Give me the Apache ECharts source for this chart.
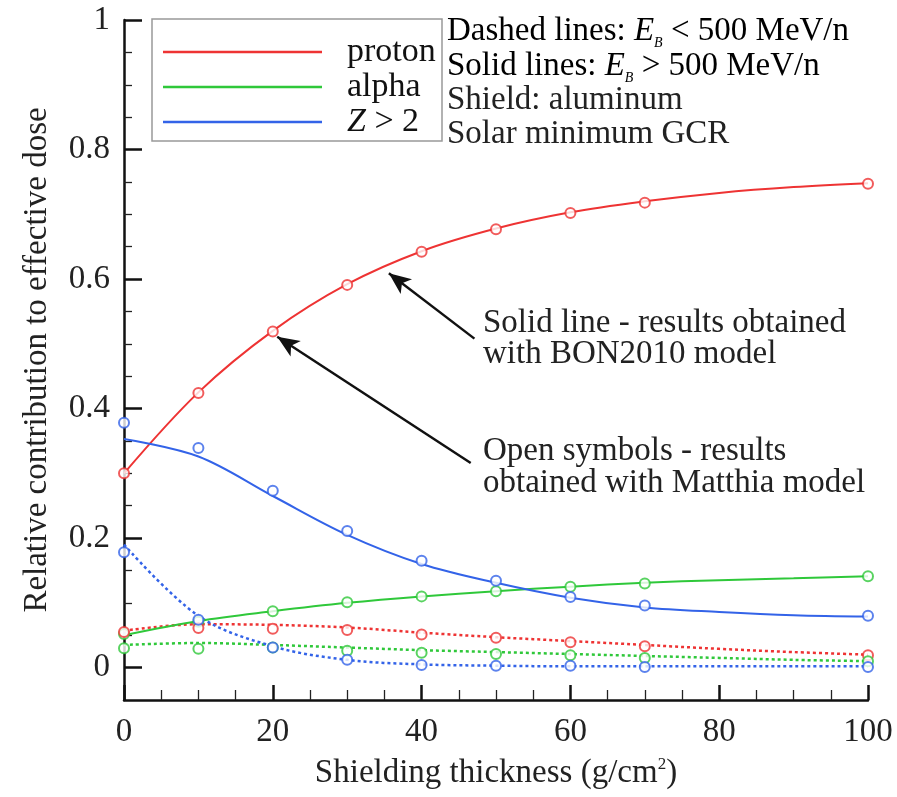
<!DOCTYPE html>
<html>
<head>
<meta charset="utf-8">
<script src="https://cdn.jsdelivr.net/npm/echarts@6/dist/echarts.min.js"></script>
<style>
  html, body { margin: 0; padding: 0; background: #fff; }
  #chart { width: 897px; height: 797px; }
</style>
</head>
<body>
<div id="chart"></div>
<script>
// shielding thickness (g/cm2)
const xLine = [0, 10, 20, 30, 40, 50, 60, 70, 80, 90, 100];
const xSym = [0, 10, 20, 30, 40, 50, 60, 70, 100];

// BON2010 model, E > 500 MeV/n (solid)
const protonHigh = [0.300, 0.425, 0.520, 0.592, 0.643, 0.678, 0.703, 0.720, 0.733, 0.742, 0.748];
const alphaHigh = [0.050, 0.072, 0.087, 0.100, 0.110, 0.118, 0.125, 0.131, 0.135, 0.138, 0.141];
const heavyHigh = [0.353, 0.326, 0.265, 0.205, 0.160, 0.131, 0.108, 0.093, 0.086, 0.081, 0.079];
// BON2010 model, E < 500 MeV/n (dashed)
const protonLow = [0.057, 0.067, 0.066, 0.062, 0.054, 0.047, 0.041, 0.035, 0.029, 0.024, 0.020];
const alphaLow = [0.035, 0.038, 0.035, 0.031, 0.027, 0.024, 0.021, 0.018, 0.015, 0.012, 0.010];
const heavyLow = [0.190, 0.080, 0.033, 0.012, 0.005, 0.003, 0.002, 0.002, 0.002, 0.002, 0.002];

// Matthia model (open symbols)
const protonHighSym = [0.300, 0.424, 0.519, 0.591, 0.642, 0.677, 0.702, 0.718, 0.747];
const alphaHighSym = [0.052, 0.071, 0.087, 0.101, 0.110, 0.118, 0.125, 0.130, 0.141];
const heavyHighSym = [0.378, 0.339, 0.273, 0.211, 0.165, 0.134, 0.109, 0.096, 0.080];
const protonLowSym = [0.055, 0.061, 0.060, 0.058, 0.051, 0.046, 0.039, 0.033, 0.019];
const alphaLowSym = [0.030, 0.029, 0.031, 0.026, 0.023, 0.021, 0.019, 0.015, 0.010];
const heavyLowSym = [0.178, 0.074, 0.031, 0.012, 0.004, 0.003, 0.003, 0.001, 0.001];

// tick labels
const yMajor = [0, 0.2, 0.4, 0.6, 0.8, 1];
const yMinor = [0.05, 0.1, 0.15, 0.25, 0.3, 0.35, 0.45, 0.5, 0.55, 0.65, 0.7, 0.75, 0.85, 0.9, 0.95];

// arrows: [tail, tip] in data coords
const arrows = [
    [[47.1, 0.508], [35.6, 0.609]],
    [[46.6, 0.316], [20.6, 0.511]],
];

const RED = "#ee3333";
const GREEN = "#2fc83a";
const BLUE = "#3363e8";
const FONT = "Liberation Serif";

function pairs(xs, ys) {
    return xs.map((x, i) => [x, ys[i]]);
}

function solid(name, color, ys) {
    return {
        name: name,
        type: "line",
        smooth: 0.35,
        symbol: "none",
        data: pairs(xLine, ys),
        lineStyle: { color: color, width: 2 },
        itemStyle: { color: color },
        z: 3,
    };
}

function dashed(name, color, ys) {
    return {
        name: name,
        type: "line",
        smooth: 0.35,
        symbol: "none",
        data: pairs(xLine, ys),
        lineStyle: { color: color, width: 2.5, type: [3, 3] },
        itemStyle: { color: color },
        z: 2,
    };
}

function symbols(name, color, ys) {
    return {
        name: name,
        type: "scatter",
        symbol: "emptyCircle",
        symbolSize: 10,
        data: pairs(xSym, ys),
        itemStyle: { color: color, borderColor: color, borderWidth: 1.8 },
        z: 4,
    };
}

const chart = echarts.init(document.getElementById("chart"));
const textBase = { fontFamily: FONT, fontSize: 33, fill: "#222" };

const protonSeries = solid("proton", RED, protonHigh);
protonSeries.markLine = {
    silent: true,
    symbol: ["none", "arrow"],
    symbolSize: [14, 22],
    label: { show: false },
    lineStyle: { color: "#111", width: 2.5, type: "solid" },
    data: arrows.map((a) => [{ coord: a[0] }, { coord: a[1] }]),
};

chart.setOption({
    animation: false,
    grid: { left: 124, right: 29, top: 20, bottom: 97 },
    legend: {
        data: ["proton", "alpha", "Z > 2"],
        orient: "vertical",
        left: 158,
        top: 30,
        itemWidth: 159,
        itemHeight: 2.5,
        itemGap: 1,
        icon: "rect",
        formatter: (name) => (name === "Z > 2" ? "{i|Z} > 2" : name),
        textStyle: {
            fontFamily: FONT,
            fontSize: 34,
            color: "#111",
            padding: [0, 0, 0, 20],
            rich: { i: { fontFamily: FONT, fontSize: 34, fontStyle: "italic", color: "#111" } },
        },
    },
    xAxis: {
        type: "value",
        min: 0,
        max: 100,
        interval: 20,
        name: "Shielding thickness (g/cm{sup|2})",
        nameLocation: "middle",
        nameGap: 56,
        nameTextStyle: {
            fontFamily: FONT,
            fontSize: 33,
            color: "#222",
            rich: { sup: { fontFamily: FONT, fontSize: 17, color: "#222", padding: [0, 0, 18, 0] } },
        },
        axisLine: { onZero: false, lineStyle: { color: "#111", width: 2.5 } },
        axisTick: { inside: true, length: 15, lineStyle: { color: "#111", width: 2.5 } },
        minorTick: { show: true, splitNumber: 4, length: 10, lineStyle: { color: "#222", width: 1.3 } },
        axisLabel: { fontFamily: FONT, fontSize: 33, color: "#222", margin: 16 },
        splitLine: { show: false },
    },
    yAxis: [
        {
            type: "value",
            min: -0.05,
            max: 1,
            name: "Relative contribution to effective dose",
            nameLocation: "middle",
            nameGap: 70,
            nameTextStyle: { fontFamily: FONT, fontSize: 33, color: "#222" },
            axisLine: { show: true, lineStyle: { color: "#111", width: 2.5 } },
            axisTick: { inside: true, length: 18, customValues: yMajor, lineStyle: { color: "#111", width: 2.5 } },
            axisLabel: {
                customValues: yMajor,
                fontFamily: FONT,
                fontSize: 33,
                color: "#222",
                margin: 14,
                formatter: (v) => String(+v.toFixed(1)),
            },
            splitLine: { show: false },
        },
        {
            type: "value",
            min: -0.05,
            max: 1,
            position: "left",
            axisLine: { show: false },
            axisTick: { show: true, inside: true, length: 8, customValues: yMinor, lineStyle: { color: "#222", width: 1.3 } },
            axisLabel: { show: false },
            splitLine: { show: false },
        },
    ],
    graphic: [
        {
            type: "rect",
            shape: { x: 152, y: 19, width: 290, height: 122 },
            style: { fill: "#fff", stroke: "#999", lineWidth: 1.5 },
            z: 0,
        },
        {
            type: "text",
            left: 447,
            top: 15,
            style: {
                text: "{n|Dashed lines: }{e|E}{s|B}{n| < 500 MeV/n}",
                rich: {
                    n: { fontFamily: FONT, fontSize: 33, color: "#222" },
                    e: { fontFamily: FONT, fontSize: 33, color: "#222", fontStyle: "italic" },
                    s: { fontFamily: FONT, fontSize: 14, color: "#222", fontStyle: "italic", padding: [24, 0, 0, 0] },
                },
            },
        },
        {
            type: "text",
            left: 447,
            top: 50,
            style: {
                text: "{n|Solid lines: }{e|E}{s|B}{n| > 500 MeV/n}",
                rich: {
                    n: { fontFamily: FONT, fontSize: 33, color: "#222" },
                    e: { fontFamily: FONT, fontSize: 33, color: "#222", fontStyle: "italic" },
                    s: { fontFamily: FONT, fontSize: 14, color: "#222", fontStyle: "italic", padding: [24, 0, 0, 0] },
                },
            },
        },
        { type: "text", left: 447, top: 84, style: Object.assign({ text: "Shield: aluminum" }, textBase) },
        { type: "text", left: 447, top: 118, style: Object.assign({ text: "Solar minimum GCR" }, textBase) },
        {
            type: "text",
            left: 483,
            top: 307,
            style: Object.assign({ text: "Solid line - results obtained\nwith BON2010 model", lineHeight: 31 }, textBase),
        },
        {
            type: "text",
            left: 483,
            top: 435,
            style: Object.assign({ text: "Open symbols - results\nobtained with Matthia model", lineHeight: 32 }, textBase),
        },
    ],
    series: [
        protonSeries,
        solid("alpha", GREEN, alphaHigh),
        solid("Z > 2", BLUE, heavyHigh),
        dashed("proton low", RED, protonLow),
        dashed("alpha low", GREEN, alphaLow),
        dashed("Z > 2 low", BLUE, heavyLow),
        symbols("proton Matthia", RED, protonHighSym),
        symbols("alpha Matthia", GREEN, alphaHighSym),
        symbols("Z > 2 Matthia", BLUE, heavyHighSym),
        symbols("proton low Matthia", RED, protonLowSym),
        symbols("alpha low Matthia", GREEN, alphaLowSym),
        symbols("Z > 2 low Matthia", BLUE, heavyLowSym),
    ],
});
</script>
</body>
</html>
